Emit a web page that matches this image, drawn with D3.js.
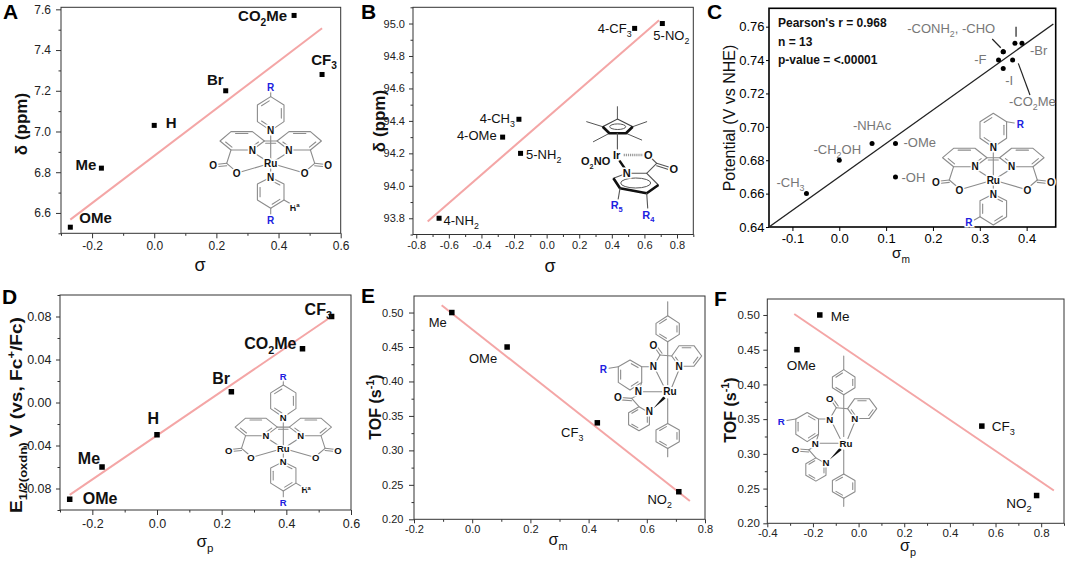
<!DOCTYPE html>
<html>
<head>
<meta charset="utf-8">
<script src="https://cdn.jsdelivr.net/npm/d3@7"></script>
<style>
body { margin: 0; background: #fff; }
svg { display: block; font-family: Arial, "Liberation Sans", sans-serif; }
</style>
</head>
<body>
<div id="chart"></div>
<script>
// ---------- data ----------
// A: 1H shift vs sigma
const aSigma = [-0.27, -0.17, 0.00, 0.23, 0.45, 0.54];
const aShift = [6.53, 6.82, 7.03, 7.20, 7.57, 7.28];
const aNames = ["OMe", "Me", "H", "Br", "CO_2Me", "CF_3"];
const aFit = [[-0.27, 6.567], [0.54, 7.507]];
const aXTicks = [-0.2, 0.0, 0.2, 0.4, 0.6];
const aYTicks = [6.6, 6.8, 7.0, 7.2, 7.4, 7.6];

// B: shift vs sigma
const bSigma = [-0.66, -0.27, -0.17, -0.16, 0.54, 0.71];
const bShift = [93.80, 94.30, 94.41, 94.20, 94.97, 95.00];
const bNames = ["4-NH_2", "4-OMe", "4-CH_3", "5-NH_2", "4-CF_3", "5-NO_2"];
const bFit = [[-0.73, 93.78], [0.69, 95.02]];
const bXTicks = [-0.8, -0.6, -0.4, -0.2, 0.0, 0.2, 0.4, 0.6, 0.8];
const bYTicks = [93.8, 94.0, 94.2, 94.4, 94.6, 94.8, 95.0];

// C: potential vs sigma_m
const cSigma = [-0.07, 0.00, 0.07, 0.12, 0.12, 0.34, 0.35, 0.35, 0.35, 0.375, 0.37, 0.39];
const cPotential = [0.660, 0.680, 0.690, 0.690, 0.670, 0.740, 0.745, 0.745, 0.735, 0.750, 0.740, 0.750];
const cNames = ["-CH_3", "-CH_2OH", "-NHAc", "-OMe", "-OH", "-F", "-CONH_2, -CHO", "", "-I", "", "-CO_2Me", "-Br"];
const cFit = [[-0.15, 0.64], [0.457, 0.7616]];
const cXTicks = [-0.1, 0.0, 0.1, 0.2, 0.3, 0.4];
const cYTicks = [0.64, 0.66, 0.68, 0.70, 0.72, 0.74, 0.76];
const cStats = ["Pearson's r = 0.968", "n = 13", "p-value = <.00001"];

// D: E1/2 vs sigma_p
const dSigma = [-0.27, -0.17, 0.00, 0.23, 0.45, 0.54];
const dPotential = [-0.09, -0.06, -0.03, 0.01, 0.05, 0.08];
const dNames = ["OMe", "Me", "H", "Br", "CO_2Me", "CF_3"];
const dFit = [[-0.27, -0.086], [0.54, 0.08]];
const dXTicks = [-0.2, 0.0, 0.2, 0.4, 0.6];
const dYTicks = [-0.08, -0.04, 0.00, 0.04, 0.08];

// E: TOF vs sigma_m
const eSigma = [-0.07, 0.12, 0.43, 0.71];
const eTof = [0.50, 0.45, 0.34, 0.24];
const eNames = ["Me", "OMe", "CF_3", "NO_2"];
const eFit = [[-0.105, 0.5106], [0.748, 0.2265]];
const eXTicks = [-0.2, 0.0, 0.2, 0.4, 0.6, 0.8];
const eYTicks = [0.20, 0.25, 0.30, 0.35, 0.40, 0.45, 0.50];

// F: TOF vs sigma_p
const fSigma = [-0.17, -0.27, 0.54, 0.78];
const fTof = [0.50, 0.45, 0.34, 0.24];
const fNames = ["Me", "OMe", "CF_3", "NO_2"];
const fFit = [[-0.282, 0.5014], [0.8555, 0.2472]];
const fXTicks = [-0.4, -0.2, 0.0, 0.2, 0.4, 0.6, 0.8];
const fYTicks = [0.20, 0.25, 0.30, 0.35, 0.40, 0.45, 0.50];

// ---------- setup ----------
const width = 1065, height = 565;
const svg = d3.select("#chart").append("svg")
    .attr("width", width)
    .attr("height", height);
svg.append("rect").attr("width", width).attr("height", height).attr("fill", "#fff");

const locale = d3.formatLocale({decimal: ".", thousands: ",", grouping: [3], currency: ["", ""], minus: "-"});
const fitColor = "#f4a6a6";
const bondColor = "#8c8c8c";
const rBlue = "#2020e0";

// text with _x / _{..} subscripts and ^x / ^{..} superscripts
function rich(sel, str, fs) {
    const re = /([_^])(\{[^}]*\}|.)/g;
    let last = 0, m;
    const parts = [];
    while ((m = re.exec(str))) {
        if (m.index > last) parts.push({t: str.slice(last, m.index), k: 0});
        const t = m[2].startsWith("{") ? m[2].slice(1, -1) : m[2];
        parts.push({t: t, k: m[1] === "_" ? 1 : -1});
        last = re.lastIndex;
    }
    if (last < str.length) parts.push({t: str.slice(last), k: 0});
    let shift = 0;
    parts.forEach(p => {
        const ts = sel.append("tspan").text(p.t);
        const target = p.k === 1 ? fs * 0.3 : p.k === -1 ? -fs * 0.42 : 0;
        if (target !== shift) ts.attr("dy", target - shift);
        shift = target;
        if (p.k) ts.attr("font-size", fs * 0.68);
    });
    return sel;
}

function minorTicks(major, domain) {
    const step = major[1] - major[0];
    const out = [];
    for (let i = 0; i < major.length - 1; i++) out.push((major[i] + major[i + 1]) / 2);
    const lo = major[0] - step / 2, hi = major[major.length - 1] + step / 2;
    if (lo >= domain[0] - 1e-9) out.unshift(lo);
    if (hi <= domain[1] + 1e-9) out.push(hi);
    return out;
}

function panel(p) {
    const g = svg.append("g");
    const x = d3.scaleLinear().domain(p.xDomain).range([p.left, p.right]);
    const y = d3.scaleLinear().domain(p.yDomain).range([p.bottom, p.top]);

    const styleAxis = a => {
        a.select(".domain").remove();
        a.selectAll("line").attr("stroke", p.frameColor).attr("stroke-width", 1);
        a.selectAll("text").attr("font-size", p.tickFont).attr("fill", p.tickColor)
            .attr("font-family", "Arial, 'Liberation Sans', sans-serif");
    };

    const xa = g.append("g").attr("transform", `translate(0,${p.bottom})`)
        .call(d3.axisBottom(x).tickValues(p.xTicks).tickFormat(locale.format(p.xFmt))
            .tickSize(p.xTick[0]).tickPadding(p.xTick[1]));
    styleAxis(xa);
    const ya = g.append("g").attr("transform", `translate(${p.left},0)`)
        .call(d3.axisLeft(y).tickValues(p.yTicks).tickFormat(locale.format(p.yFmt))
            .tickSize(p.yTick[0]).tickPadding(p.yTick[1]));
    styleAxis(ya);

    if (p.minor) {
        const xm = g.append("g").attr("transform", `translate(0,${p.bottom})`)
            .call(d3.axisBottom(x).tickValues(minorTicks(p.xTicks, p.xDomain)).tickFormat("").tickSize(2.5));
        styleAxis(xm);
        const ym = g.append("g").attr("transform", `translate(${p.left},0)`)
            .call(d3.axisLeft(y).tickValues(minorTicks(p.yTicks, p.yDomain)).tickFormat("").tickSize(2.5));
        styleAxis(ym);
    }

    g.append("rect")
        .attr("x", p.left).attr("y", p.top)
        .attr("width", p.right - p.left).attr("height", p.bottom - p.top)
        .attr("fill", "none").attr("stroke", p.frameColor).attr("stroke-width", p.frameWidth);

    // fit line
    g.append("path")
        .datum(p.fit)
        .attr("d", d3.line().x(d => x(d[0])).y(d => y(d[1])))
        .attr("fill", "none")
        .attr("stroke", p.fitColor)
        .attr("stroke-width", p.fitWidth);

    const pts = p.xs.map((v, i) => ({x: v, y: p.ys[i], name: p.names[i], i: i}));

    if (p.circle) {
        g.selectAll("circle.pt").data(pts).join("circle").attr("class", "pt")
            .attr("cx", d => x(d.x)).attr("cy", d => y(d.y)).attr("r", 2.5).attr("fill", "#000");
    } else {
        const s = p.marker;
        g.selectAll("rect.pt").data(pts).join("rect").attr("class", "pt")
            .attr("x", d => x(d.x) - s / 2).attr("y", d => y(d.y) - s / 2)
            .attr("width", s).attr("height", s).attr("fill", "#000");
    }

    pts.forEach(d => {
        if (!d.name) return;
        const lp = p.labelPos[d.i];
        const t = g.append("text")
            .attr("x", x(d.x) + lp[0]).attr("y", y(d.y) + lp[1])
            .attr("text-anchor", lp[2])
            .attr("font-size", p.labelFont)
            .attr("font-weight", p.labelWeight)
            .attr("fill", p.labelColor);
        rich(t, d.name, p.labelFont);
    });

    // axis titles
    const xt = g.append("text").attr("x", p.xTitle.pos[0]).attr("y", p.xTitle.pos[1])
        .attr("text-anchor", "middle").attr("font-size", p.xTitle.size)
        .attr("font-weight", p.xTitle.weight).attr("fill", "#111");
    rich(xt, p.xTitle.text, p.xTitle.size);
    const yt = g.append("text")
        .attr("transform", `translate(${p.yTitle.pos[0] + p.yTitle.size * 0.36},${p.yTitle.pos[1]}) rotate(-90)`)
        .attr("text-anchor", "middle").attr("font-size", p.yTitle.size)
        .attr("font-weight", p.yTitle.weight).attr("fill", "#111");
    rich(yt, p.yTitle.text, p.yTitle.size);
    if (p.yTitle.len) yt.attr("textLength", p.yTitle.len).attr("lengthAdjust", "spacingAndGlyphs");

    // panel letter
    g.append("text").attr("x", p.letterPos[0]).attr("y", p.letterPos[1])
        .attr("font-size", 21).attr("font-weight", "bold").attr("fill", "#000").text(p.letter);

    return {g: g, x: x, y: y};
}

// ---------- structure helpers ----------
function bond(g, a, b, w, col) {
    g.append("line").attr("x1", a[0]).attr("y1", a[1]).attr("x2", b[0]).attr("y2", b[1])
        .attr("stroke", col || bondColor).attr("stroke-width", w || 1.1).attr("stroke-linecap", "round");
}
function ring(g, pts, doubles) {
    g.append("path").attr("d", d3.line()(pts) + "Z").attr("fill", "none")
        .attr("stroke", bondColor).attr("stroke-width", 1.1).attr("stroke-linejoin", "round");
    const cx = d3.mean(pts, p => p[0]), cy = d3.mean(pts, p => p[1]);
    doubles.forEach(i => {
        const a = pts[i], b = pts[(i + 1) % pts.length];
        const k = 0.2, s = 0.14;
        const a2 = [a[0] + (cx - a[0]) * k, a[1] + (cy - a[1]) * k];
        const b2 = [b[0] + (cx - b[0]) * k, b[1] + (cy - b[1]) * k];
        bond(g, [a2[0] + (b2[0] - a2[0]) * s, a2[1] + (b2[1] - a2[1]) * s],
                [b2[0] + (a2[0] - b2[0]) * s, b2[1] + (a2[1] - b2[1]) * s]);
    });
}
function atom(g, x, y, txt, col, fs, anchor) {
    const t = g.append("text").attr("x", x).attr("y", y).attr("dy", "0.36em")
        .attr("text-anchor", anchor || "middle").attr("font-size", fs || 10)
        .attr("font-weight", "bold").attr("fill", col || "#111")
        .attr("stroke", "#fff").attr("stroke-width", 3).attr("paint-order", "stroke");
    rich(t, txt, fs || 10);
}

function ruBda(tx, ty, s, meta) {
    const g = svg.append("g").attr("transform", `translate(${tx},${ty}) scale(${s})`);
    const topPy = [[0, -66.7], [13.3, -58.3], [13.3, -41.7], [0, -32.7], [-13.3, -41.7], [-13.3, -58.3]];
    const botPy = [[0, 14], [13.3, 20.7], [13.3, 36.7], [0, 45], [-13.3, 36.7], [-13.3, 20.7]];
    const lRing = [[-39.7, -31.7], [-18.3, -31.7], [-6.3, -22.3], [-18.3, -13.3], [-39.7, -13.3], [-50.7, -22.3]];
    const rRing = lRing.map(p => [-p[0], p[1]]);
    ring(g, topPy, [1, 3, 5]);
    ring(g, botPy, [0, 2, 4]);
    ring(g, lRing, [0, 2, 4]);
    ring(g, rRing, [0, 2, 4]);
    bond(g, [-6.3, -22.3], [6.3, -22.3]);
    bond(g, [-5, -20], [5, -20]);
    [-1, 1].forEach(sg => {
        bond(g, [sg * 39.7, -13.3], [sg * 44, 0]);
        bond(g, [sg * 44, 0], [sg * 53, 1]);
        bond(g, [sg * 44, 2.4], [sg * 52, 3.2]);
        bond(g, [sg * 44, 0], [sg * 37, 6]);
        bond(g, [sg * 31, 9], [sg * 7, 2]);
        bond(g, [sg * 16, -10], [sg * 5, -3]);
    });
    bond(g, [0, -33], [0, 14]);
    if (!meta) {
        bond(g, [0, -66.7], [0, -72]);
        bond(g, [0, 45], [0, 51]);
        bond(g, [13.3, 36.7], [19, 40]);
        atom(g, 24, 44, "H^a", "#111", 9);
        atom(g, 0, -76, "R", rBlue, 10);
        atom(g, 0, 57.3, "R", rBlue, 10);
    } else {
        bond(g, [13.3, -58.3], [21, -57]);
        bond(g, [-13.3, 36.7], [-19, 40]);
        atom(g, 27, -56, "R", rBlue, 10);
        atom(g, -24.5, 42.5, "R", rBlue, 10);
    }
    atom(g, 0, -32.7, "N");
    atom(g, -18.3, -13.3, "N");
    atom(g, 18.3, -13.3, "N");
    atom(g, 0, 14, "N");
    atom(g, 0, 0, "Ru");
    atom(g, -57.5, 2, "O");
    atom(g, 57.5, 2, "O");
    atom(g, -34, 10, "O");
    atom(g, 34, 10, "O");
}

function ruAmide(tx, ty, s) {
    const g = svg.append("g").attr("transform", `translate(${tx},${ty}) scale(${s})`);
    const tolT = [[-1.3, -76], [10.3, -68.3], [10.3, -57.3], [-1.3, -50], [-13, -57.3], [-13, -68.3]];
    const tolB = [[-1.3, 31.7], [10.3, 38.3], [10.3, 50], [-1.3, 56.7], [-13, 50], [-13, 38.3]];
    const ph = [[-39, -31.7], [-27.3, -25], [-27.3, -9.3], [-39, -1.7], [-50.7, -9.3], [-50.7, -25]];
    const pyU = [[2.7, -35.7], [10, -46], [25, -46], [32.7, -35.7], [25, -25.5], [10, -25.5]];
    const pyL = [[-30, 15], [-19.6, 21], [-19.6, 33], [-30, 39], [-40.4, 33], [-40.4, 21]];
    ring(g, tolT, [1, 3, 5]);
    ring(g, tolB, [1, 3, 5]);
    ring(g, ph, [0, 2, 4]);
    ring(g, pyU, [1, 3, 5]);
    ring(g, pyL, [1, 3, 5]);
    bond(g, [-1.3, -76], [-1.3, -90]);
    bond(g, [-1.3, -50], [-1.3, -7]);
    bond(g, [-1.3, 7], [-1.3, 31.7]);
    bond(g, [-1.3, 56.7], [-1.3, 65]);
    bond(g, [-50.7, -25], [-60, -23.5]);
    bond(g, [-27.3, -25], [-16, -25]);
    bond(g, [-14, -28], [-9, -36.7]);
    bond(g, [-9, -36.7], [-14, -44]);
    bond(g, [-7, -38.5], [-12, -45.5]);
    bond(g, [-9, -36.7], [2.7, -35.7]);
    bond(g, [-13, -21], [-5, -5]);
    bond(g, [10, -22], [3, -5]);
    bond(g, [-27.3, -9.3], [-30, -1]);
    bond(g, [-26, 0], [-7, 0]);
    bond(g, [-31, 3], [-37.3, 6.7]);
    bond(g, [-37.3, 6.7], [-48, 5.8]);
    bond(g, [-37.3, 9], [-48, 8.2]);
    bond(g, [-37.3, 6.7], [-30, 15]);
    g.append("path").attr("d", "M-16,17 L-5.5,4.5 L-3.5,6.8 Z").attr("fill", "#111");
    atom(g, -65.7, -22.7, "R", rBlue, 10);
    atom(g, -15.7, -25, "N");
    atom(g, -15.7, -46.7, "O");
    atom(g, 10, -25.5, "N");
    atom(g, -30.7, 0, "N");
    atom(g, -51, 6, "O");
    atom(g, -19.6, 20, "N");
    atom(g, 1, 0, "Ru");
}

function irCp(tx, ty, s) {
    const g = svg.append("g").attr("transform", `translate(${tx},${ty}) scale(${s})`);
    const cp = [[0.7, -36], [16, -28.3], [9.3, -21.7], [-7.3, -21.7], [-14, -28.3]];
    const tips = [[0.7, -48.3], [30, -33.3], [25, -15], [-23.3, -13.3], [-30, -33.3]];
    cp.forEach((p, i) => bond(g, p, tips[i], 1, "#555"));
    g.append("path").attr("d", d3.line()(cp) + "Z").attr("fill", "none").attr("stroke", "#444").attr("stroke-width", 1.1);
    g.append("path").attr("d", d3.line()([cp[4], cp[3], cp[2], cp[1]])).attr("fill", "none")
        .attr("stroke", "#111").attr("stroke-width", 2.6).attr("stroke-linejoin", "round");
    g.append("ellipse").attr("cx", 1).attr("cy", -28.3).attr("rx", 8).attr("ry", 2.8)
        .attr("fill", "none").attr("stroke", "#555").attr("stroke-width", 1);
    bond(g, [0.7, -21.7], [0.7, -6], 1.1, "#555");
    g.append("line").attr("x1", 7).attr("y1", 0).attr("x2", 27).attr("y2", 0)
        .attr("stroke", "#999").attr("stroke-width", 2.6).attr("stroke-dasharray", "1.2,0.9");
    bond(g, [3, 6], [8.5, 14], 2.3, "#111");
    const py = [[10, 18.3], [30, 18.3], [41.7, 30], [30, 38.3], [3.3, 33.3], [-3.3, 23.3]];
    g.append("path").attr("d", d3.line()(py) + "Z").attr("fill", "none").attr("stroke", "#555").attr("stroke-width", 1.1);
    g.append("path").attr("d", d3.line()([py[2], py[3], py[4], py[5]])).attr("fill", "none")
        .attr("stroke", "#111").attr("stroke-width", 2.6).attr("stroke-linejoin", "round");
    g.append("ellipse").attr("cx", 19).attr("cy", 28).attr("rx", 15).attr("ry", 5)
        .attr("fill", "none").attr("stroke", "#555").attr("stroke-width", 1);
    bond(g, [30, 18.3], [40, 8.3], 1.1, "#555");
    bond(g, [40, 8.3], [34.5, 3], 1.1, "#555");
    bond(g, [40, 8.3], [52, 12], 1.1, "#555");
    bond(g, [40, 10.8], [51, 14.3], 1.1, "#555");
    bond(g, [3.3, 33.3], [1.5, 44], 1.1, "#555");
    bond(g, [30, 38.3], [31, 53], 1.1, "#555");
    atom(g, 0, 0, "Ir", "#111", 11);
    atom(g, 31.7, 0, "O", "#111", 11);
    atom(g, 10, 18.3, "N", "#111", 11);
    atom(g, 57, 14, "O", "#111", 11);
    atom(g, -6.5, 6.5, "O_2NO", "#111", 11, "end");
    atom(g, 0, 50, "R_5", rBlue, 11);
    atom(g, 31.7, 60, "R_4", rBlue, 11);
}

// ---------- panels ----------
panel({
    letter: "A", letterPos: [3, 19],
    left: 61, right: 340.7, top: 7.3, bottom: 233.3,
    xDomain: [-0.3, 0.6], yDomain: [6.5, 7.61],
    xTicks: aXTicks, yTicks: aYTicks, xFmt: ".1f", yFmt: ".1f",
    xTick: [5, 3], yTick: [5, 5], minor: true,
    tickFont: 12, tickColor: "#222", frameColor: "#333", frameWidth: 1,
    fit: aFit, fitColor: fitColor, fitWidth: 2,
    xs: aSigma, ys: aShift, names: aNames, marker: 5,
    labelPos: [[9, -4, "start"], [-5, 2, "end"], [11.5, 3, "start"], [-2, -6, "end"], [-7, 6, "end"], [2, -9.5, "middle"]],
    labelFont: 15, labelWeight: "bold", labelColor: "#111",
    xTitle: {text: "σ", pos: [200, 271], size: 18, weight: "normal"},
    yTitle: {text: "δ (ppm)", pos: [21, 124], size: 17, weight: "bold"}
});

panel({
    letter: "B", letterPos: [361, 19],
    left: 413, right: 693.3, top: 7.3, bottom: 234.5,
    xDomain: [-0.82, 0.9], yDomain: [93.7, 95.1],
    xTicks: bXTicks, yTicks: bYTicks, xFmt: ".1f", yFmt: ".1f",
    xTick: [4, 3], yTick: [4, 4], minor: true,
    tickFont: 11, tickColor: "#222", frameColor: "#333", frameWidth: 1,
    fit: bFit, fitColor: fitColor, fitWidth: 2,
    xs: bSigma, ys: bShift, names: bNames, marker: 5,
    labelPos: [[4.5, 7, "start"], [-6, 3, "end"], [-4, 3.5, "end"], [5.5, 6, "start"], [-3, 5, "end"], [-9, 16.5, "start"]],
    labelFont: 13, labelWeight: "normal", labelColor: "#111",
    xTitle: {text: "σ", pos: [550, 272], size: 18, weight: "normal"},
    yTitle: {text: "δ (ppm)", pos: [379, 121], size: 17, weight: "bold"}
});

const pc = panel({
    letter: "C", letterPos: [707, 19],
    left: 769, right: 1055.7, top: 8.3, bottom: 227,
    xDomain: [-0.15, 0.462], yDomain: [0.64, 0.771],
    xTicks: cXTicks, yTicks: cYTicks, xFmt: ".1f", yFmt: ".2f",
    xTick: [4, 3], yTick: [3, 1.5], minor: false,
    tickFont: 13, tickColor: "#000", frameColor: "#000", frameWidth: 1.6,
    fit: cFit, fitColor: "#222", fitWidth: 1.4,
    xs: cSigma, ys: cPotential, names: cNames, circle: true,
    labelPos: [[-2, -7, "end"], [-2, -6, "middle"], [0, -13.5, "middle"], [8, 3.5, "start"], [6, 5, "start"],
               [-12, 4, "end"], [-8, -18.4, "end"], [0, 0, "start"], [6, 16.6, "middle"], [0, 0, "start"],
               [-3.6, 46, "start"], [8, 11.6, "start"]],
    labelFont: 13, labelWeight: "normal", labelColor: "#777",
    xTitle: {text: "σ_m", pos: [901, 258], size: 15, weight: "normal"},
    yTitle: {text: "Potential (V vs NHE)", pos: [729, 118], size: 16, weight: "normal"}
});
// leader lines for the crowded cluster in C (offsets from the point)
const cLeaders = [[6, [-11, -12.7], [-2.5, -4]], [9, [1.1, -16.7], [1.1, -6.7]], [10, [5.7, 3.3], [17.4, 35]]];
cLeaders.forEach(l => {
    const px = pc.x(cSigma[l[0]]), py = pc.y(cPotential[l[0]]);
    pc.g.append("line").attr("x1", px + l[1][0]).attr("y1", py + l[1][1])
        .attr("x2", px + l[2][0]).attr("y2", py + l[2][1])
        .attr("stroke", "#222").attr("stroke-width", 1.2);
});
cStats.forEach((s, i) => {
    pc.g.append("text").attr("x", 778).attr("y", 27 + i * 18.5)
        .attr("font-size", 12).attr("font-weight", "bold").attr("fill", "#111").text(s);
});

panel({
    letter: "D", letterPos: [2, 304],
    left: 60, right: 351, top: 295, bottom: 510,
    xDomain: [-0.3, 0.6], yDomain: [-0.1, 0.1],
    xTicks: dXTicks, yTicks: dYTicks, xFmt: ".1f", yFmt: ".2f",
    xTick: [5, 4], yTick: [4, 4.5], minor: true,
    tickFont: 12.5, tickColor: "#222", frameColor: "#333", frameWidth: 1,
    fit: dFit, fitColor: fitColor, fitWidth: 2,
    xs: dSigma, ys: dPotential, names: dNames, marker: 5.5,
    labelPos: [[13, 5, "start"], [-2, -3, "end"], [-3.7, -10.3, "middle"], [-1.4, -8, "end"], [-6, 0, "end"], [-27, -2, "start"]],
    labelFont: 16, labelWeight: "bold", labelColor: "#111",
    xTitle: {text: "σ_p", pos: [205, 547], size: 17, weight: "normal"},
    yTitle: {text: "E_{1/2(oxdn)} V (vs, Fc^+/Fc)", pos: [16, 415], size: 17, weight: "bold", len: 196}
});

panel({
    letter: "E", letterPos: [361, 303],
    left: 414, right: 705, top: 296, bottom: 519.3,
    xDomain: [-0.2, 0.8], yDomain: [0.2, 0.524],
    xTicks: eXTicks, yTicks: eYTicks, xFmt: ".1f", yFmt: ".2f",
    xTick: [4, 2], yTick: [5, 5.5], minor: true,
    tickFont: 11, tickColor: "#222", frameColor: "#333", frameWidth: 1,
    fit: eFit, fitColor: fitColor, fitWidth: 2,
    xs: eSigma, ys: eTof, names: eNames, marker: 5.5,
    labelPos: [[-5, 14, "end"], [-10, 16, "end"], [-14, 14, "end"], [-7, 12, "end"]],
    labelFont: 13, labelWeight: "normal", labelColor: "#111",
    xTitle: {text: "σ_m", pos: [558, 545], size: 16, weight: "normal"},
    yTitle: {text: "TOF (s^{-1})", pos: [375, 407], size: 16, weight: "bold"}
});

panel({
    letter: "F", letterPos: [714, 306],
    left: 767.3, right: 1064, top: 299, bottom: 523.3,
    xDomain: [-0.4, 0.9], yDomain: [0.2, 0.523],
    xTicks: fXTicks, yTicks: fYTicks, xFmt: ".1f", yFmt: ".2f",
    xTick: [4, 1.5], yTick: [4, 3.5], minor: true,
    tickFont: 11.5, tickColor: "#222", frameColor: "#333", frameWidth: 1,
    fit: fFit, fitColor: fitColor, fitWidth: 2,
    xs: fSigma, ys: fTof, names: fNames, marker: 5.5,
    labelPos: [[11, 6, "start"], [4.3, 20.3, "middle"], [10, 4.7, "start"], [-5, 12, "end"]],
    labelFont: 13.5, labelWeight: "normal", labelColor: "#111",
    xTitle: {text: "σ_p", pos: [908, 551], size: 16, weight: "normal"},
    yTitle: {text: "TOF (s^{-1})", pos: [730, 410], size: 16, weight: "bold"}
});

// ---------- structure insets ----------
ruBda(270.7, 163.3, 1, false);
irCp(616.7, 155, 1);
ruBda(993.3, 180, 1, true);
ruBda(283.3, 448.3, 0.95, false);
ruAmide(669, 391.7, 1);
ruAmide(845, 443.3, 0.97);
</script>
</body>
</html>
